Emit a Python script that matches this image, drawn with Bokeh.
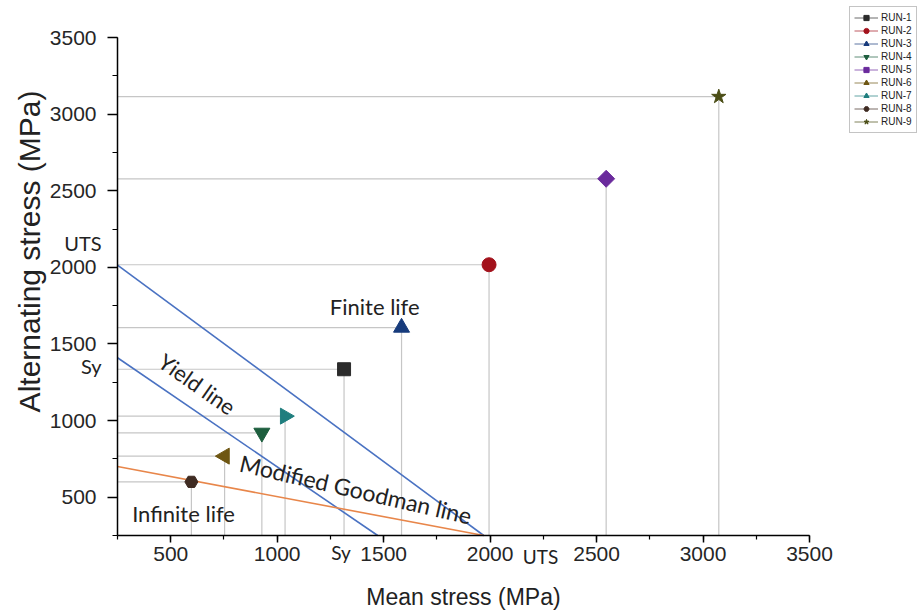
import math
from bokeh.plotting import figure
from bokeh.models import (Range1d, SingleIntervalTicker, Label, Legend,
                          LegendItem, ColumnDataSource, LinearAxis)
from bokeh.embed import file_html
from bokeh.resources import INLINE

# ---------------- data ----------------
runs = ["RUN-1", "RUN-2", "RUN-3", "RUN-4", "RUN-5", "RUN-6", "RUN-7", "RUN-8", "RUN-9"]
mean_stress = [1314, 1995, 1584, 928, 2545, 753, 1037, 597, 3074]
alt_stress = [1335, 2017, 1607, 920, 2578, 768, 1029, 600, 3114]
markers = ["square", "circle", "triangle", "inverted_triangle", "square",
           "triangle", "triangle", "hex", "star"]
marker_angles = [0, 0, 0, 0, math.pi / 4, math.pi / 2, -math.pi / 2, 0, 0]
marker_sizes = [13, 14, 16, 16, 12, 16, 16, 13, 15]
colors = ["#2b2b2b", "#a3121c", "#173b7c", "#1d5e3e", "#6a2a9c",
          "#6e5612", "#1f7e7e", "#3f2b22", "#4b4e16"]

uts_line_x = [250, 1970]
uts_line_y = [2015, 250]
yield_line_x = [250, 1472]
yield_line_y = [1410, 250]
goodman_line_x = [250, 1970]
goodman_line_y = [700, 250]

x_min, x_max = 250, 3500
y_min, y_max = 250, 3500
tick_interval = 500

TICK_FONT = "Liberation Sans"
NOTE_FONT = "Lato"

# ---------------- layout: axes box at px 117..809 (x), 37..535 (y) ----------------
W, H = 918, 612
L, R, T, B = 117, 109, 37, 77
sx = (W - L - R) / (x_max - x_min)
sy = (H - T - B) / (y_max - y_min)
x_range = Range1d(x_min - L / sx, x_max + R / sx)
y_range = Range1d(y_min - B / sy, y_max + T / sy)

p = figure(width=W, height=H, output_backend="svg", toolbar_location=None,
           x_range=x_range, y_range=y_range,
           x_axis_location=None, y_axis_location=None,
           min_border_left=0, min_border_right=0, min_border_top=0,
           min_border_bottom=0)
p.outline_line_color = None
p.xgrid.grid_line_color = None
p.ygrid.grid_line_color = None
p.background_fill_color = "white"
p.border_fill_color = "white"

# reference lines (gray) for each run
for i in range(len(runs)):
    p.line(x=[x_min, mean_stress[i], mean_stress[i]],
           y=[alt_stress[i], alt_stress[i], y_min],
           line_color="#c6c6c6", line_width=1.2)

# criteria lines
p.line(x=uts_line_x, y=uts_line_y, line_color="#4a72c2", line_width=1.6)
p.line(x=yield_line_x, y=yield_line_y, line_color="#4a72c2", line_width=1.6)
p.line(x=goodman_line_x, y=goodman_line_y, line_color="#e8864a", line_width=1.6)

items = []
nan = float("nan")
for i in range(len(runs)):
    src = ColumnDataSource(dict(x=[mean_stress[i]], y=[alt_stress[i]]))
    leg_line = p.line(x=[nan], y=[nan], line_color=colors[i], line_width=1,
                      line_alpha=0.7)
    r = p.scatter("x", "y", source=src, marker=markers[i], size=marker_sizes[i],
                  angle=marker_angles[i], fill_color=colors[i],
                  line_color=colors[i], line_width=1)
    items.append(LegendItem(label=runs[i], renderers=[leg_line, r]))

ROW = 13
PAD = 4
legend_h = len(runs) * ROW + 2 * PAD
legend = Legend(items=items, border_line_color="#8a8a8a",
                border_line_width=1, background_fill_color="white",
                label_text_font=TICK_FONT, label_text_font_size="10px",
                label_text_color="#222222", glyph_width=24,
                glyph_height=ROW, label_height=ROW, spacing=0,
                padding=PAD, margin=0, label_standoff=3,
                location=(849, H - 8 - legend_h))
p.add_layout(legend, "center")

# main axes, pinned at the lower-left corner of the data box
xax = LinearAxis(fixed_location=y_min, bounds=(x_min, x_max))
yax = LinearAxis(fixed_location=x_min, bounds=(y_min, y_max))
for ax in (xax, yax):
    ax.ticker = SingleIntervalTicker(interval=tick_interval, num_minor_ticks=2)
    ax.axis_line_color = "black"
    ax.axis_line_width = 1.5
    ax.major_tick_line_color = "black"
    ax.major_tick_line_width = 1.5
    ax.minor_tick_line_color = "black"
    ax.minor_tick_line_width = 1.2
    ax.major_tick_in = 0
    ax.minor_tick_in = 0
    ax.major_label_text_font = TICK_FONT
    ax.major_label_text_font_size = "21px"
    ax.major_label_text_color = "#262626"
    ax.axis_label_text_font = TICK_FONT
    ax.axis_label_text_font_style = "normal"
    ax.axis_label_text_color = "#222222"

yax.major_tick_out = 10
yax.minor_tick_out = 5
yax.major_label_standoff = 11
xax.major_tick_out = 7
xax.minor_tick_out = 4
xax.major_label_standoff = 4
xax.axis_label = "Mean stress (MPa)"
xax.axis_label_text_font_size = "23px"
xax.axis_label_standoff = 20
p.add_layout(xax, "below")
p.add_layout(yax, "left")

# y title
p.add_layout(Label(x=x_min - 88 / sx, y=y_min + 284 / sy,
                   text="Alternating stress (MPa)", angle=90, angle_units="deg",
                   text_align="center", text_baseline="middle",
                   text_font=TICK_FONT, text_font_size="30px",
                   text_color="#222222"))

# annotations: (text, x, y, angle, align, size)
notes = [
    ("UTS", 175, 2162, 0, "right", 20),
    ("Sy", 175, 1353, 0, "right", 20),
    ("Sy", 1300, 140, 0, "center", 19),
    ("UTS", 2237, 112, 0, "center", 19),
    ("Finite life", 1458, 1742, 0, "center", 22),
    ("Yield line", 624, 1239, -35, "center", 22),
    ("Modified Goodman line", 1369, 552, -13, "center", 23),
    ("Infinite life", 560, 394, 0, "center", 22),
]
for txt, xx, yy, ang, al, fs in notes:
    p.add_layout(Label(x=xx, y=yy, text=txt, angle=ang, angle_units="deg",
                       text_align=al, text_baseline="middle",
                       text_font=NOTE_FONT, text_font_size=f"{fs}px",
                       text_color="#222222"))

open("out.html", "w").write(file_html(p, INLINE))
